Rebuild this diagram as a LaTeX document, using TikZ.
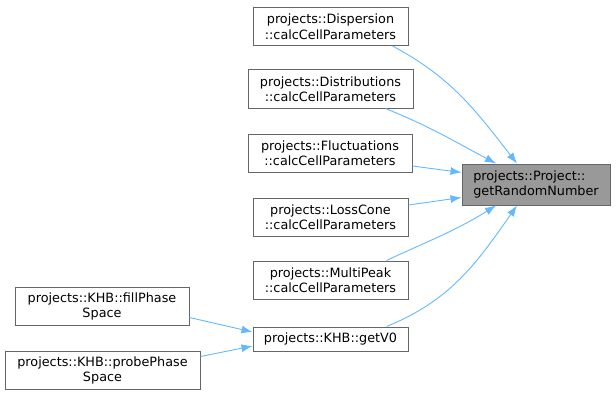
\documentclass[tikz,border=0pt]{standalone}
\usepackage{fontspec}
\setmainfont{DejaVu Sans}
\usetikzlibrary{arrows.meta,positioning}
\definecolor{EdgeBlue}{HTML}{63B8FF}
\definecolor{BoxLine}{HTML}{666666}
\definecolor{RootFill}{HTML}{999999}
\definecolor{DarkText}{HTML}{000000}
\tikzset{
  fnbox/.style={draw=BoxLine, fill=white, line width=1pt, minimum height=38pt, inner sep=2pt, align=center, text=DarkText, font=\fontsize{12.8}{15.5}\selectfont},
  rootbox/.style={fnbox, fill=RootFill, minimum height=41pt, align=left},
  call/.style={-{Latex[length=11pt,width=8pt]}, line width=0.9pt, draw=EdgeBlue}
}
\begin{document}
\begin{tikzpicture}[x=1pt,y=-1pt]
\useasboundingbox (0,0) rectangle (616,396);
\node[rootbox,minimum width=148pt] (proj) at (536,184.5) {projects::Project::\\getRandomNumber};
\node[fnbox,minimum width=155pt] (disp) at (330.5,26.5) {projects::Dispersion\\::calcCellParameters};
\node[fnbox,minimum width=165pt] (distr) at (330.5,89) {projects::Distributions\\::calcCellParameters};
\node[fnbox,minimum width=164pt] (fluct) at (330,153) {projects::Fluctuations\\::calcCellParameters};
\node[fnbox,minimum width=155pt] (loss) at (330.5,217) {projects::LossCone\\::calcCellParameters};
\node[fnbox,minimum width=155pt] (multi) at (330.5,280) {projects::MultiPeak\\::calcCellParameters};
\node[fnbox,minimum width=155pt,minimum height=24pt] (getv) at (330.5,339) {projects::KHB::getV0};
\node[fnbox,minimum width=174pt] (fill) at (102,306.5) {projects::KHB::fillPhase\\Space};
\node[fnbox,minimum width=195pt] (probe) at (102.5,370.5) {projects::KHB::probePhase\\Space};
% calls into getRandomNumber
\draw[call] ([xshift=-16pt]disp.south east) to[out=-28,in=128] ([xshift=-19pt]proj.north);
\draw[call] ([xshift=-28pt]distr.south east) to[out=-22,in=152] ([xshift=-40pt]proj.north);
\draw[call] ([yshift=-13pt]fluct.east) -- ([yshift=12pt]proj.west);
\draw[call] ([yshift=12pt]loss.east) -- ([yshift=-13pt]proj.west);
\draw[call] ([xshift=-22pt]multi.north east) to[out=25,in=-148] ([xshift=-40pt]proj.south);
\draw[call] ([xshift=-22pt]getv.north east) to[out=22,in=-125] ([xshift=-19pt]proj.south);
% calls into getV0
\draw[call] ([yshift=-11pt]fill.east) -- ([yshift=7pt]getv.west);
\draw[call] ([yshift=14pt]probe.east) -- ([yshift=-7pt]getv.west);
\end{tikzpicture}
\end{document}
